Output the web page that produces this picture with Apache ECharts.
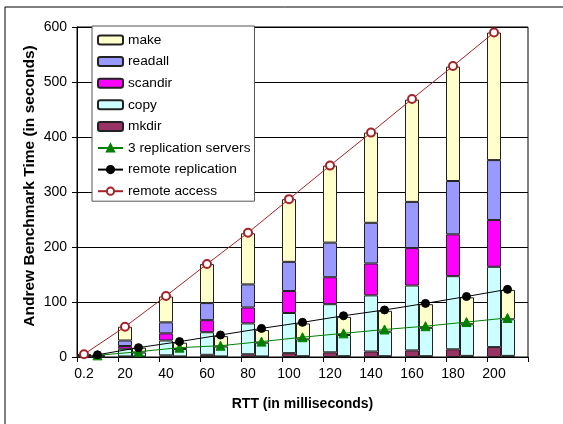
<!DOCTYPE html>
<html>
<head>
<meta charset="utf-8">
<script src="https://cdn.jsdelivr.net/npm/echarts@6/dist/echarts.min.js"></script>
<style>
  html, body { margin: 0; padding: 0; background: #fff; }
  #chart { width: 563px; height: 424px; }
</style>
</head>
<body>
<div id="chart"></div>
<script>
// RTT categories (milliseconds)
const rtt = ['0.2', '20', '40', '60', '80', '100', '120', '140', '160', '180', '200'];

// Remote access: per-phase breakdown of the Andrew benchmark (seconds)
const accessMkdir   = [0.2, 1, 3, 4, 5, 7, 8.5, 10, 12, 14, 18];
const accessCopy    = [1.8, 14, 27, 41, 56, 73, 87.5, 102, 118, 133, 146];
const accessScandir = [0.5, 5, 13, 22, 29, 40, 49, 58, 68, 76, 85];
const accessReadall = [1, 10, 20, 31, 42, 53, 63, 74, 84, 97, 109];
const accessMake    = [1.5, 25, 47, 71, 93, 114, 140, 164, 186, 208, 232];

// Replicated runs: per-phase breakdown (seconds)
const replMkdir = [0.2, 1, 1, 1, 1, 1.5, 1.5, 1.5, 1.5, 2, 2];
const replCopy  = [2, 7, 13.5, 18, 25, 30.5, 38.5, 44.5, 51.5, 57.5, 66.5];
const replMake  = [1.5, 9, 11.5, 19, 23, 29, 33, 38, 43, 49, 53.5];

// Total times (seconds)
const threeServers      = [3, 9.6, 17, 20.5, 28, 36, 43, 50, 56, 63.5, 71];
const remoteReplication = [4, 17, 28, 40, 52, 63, 75, 85.5, 97.5, 110, 123];
const remoteAccess      = [5, 55, 111, 169, 226, 287, 348, 408, 469, 529, 590];

const FONT = 'Liberation Sans, Arial, sans-serif';
const C = {
  make: '#FFFFCC', readall: '#9999FF', scandir: '#FF00FF', copy: '#CCFFFF', mkdir: '#993366',
  green: '#008000', black: '#000000', red: '#A3232A'
};
const edge = { borderColor: '#222', borderWidth: 1 };

function bar(name, data, stack, color) {
  return {
    name, type: 'bar', stack, data, barWidth: 14, barGap: '0%',
    xAxisIndex: 0, yAxisIndex: 0,
    itemStyle: Object.assign({ color }, edge)
  };
}

function line(name, data, axis, symbol, size, color) {
  return {
    name, type: 'line', data, z: 5,
    xAxisIndex: axis, yAxisIndex: axis,
    symbol, symbolSize: size, showSymbol: true, showAllSymbol: true,
    lineStyle: { color, width: 1, type: 'solid' },
    itemStyle: { color, borderColor: color, borderWidth: 1 },
    emphasis: { disabled: true }
  };
}

const chart = echarts.init(document.getElementById('chart'), null, { renderer: 'canvas' });

chart.setOption({
  animation: false,
  backgroundColor: '#fff',
  textStyle: { fontFamily: FONT },
  graphic: [{
    type: 'rect', z: -10,
    shape: { x: 5, y: 7, width: 600, height: 500 },
    style: { fill: 'none', stroke: '#000', lineWidth: 1 }
  }],
  grid: [
    { left: 77, right: 35, top: 27, bottom: 67, show: true, borderColor: '#000', borderWidth: 1, backgroundColor: 'transparent' },
    { left: 63.5, right: 48.5, top: 27, bottom: 67 }
  ],
  xAxis: [
    {
      type: 'category', gridIndex: 0, data: rtt, boundaryGap: true,
      axisLine: { lineStyle: { color: '#000' } },
      axisTick: { show: true, length: 5, lineStyle: { color: '#000' } },
      axisLabel: { show: false },
      name: 'RTT (in milliseconds)', nameLocation: 'middle', nameGap: 40, nameMoveOverlap: false,
      nameTextStyle: { fontFamily: FONT, fontSize: 14, fontWeight: 'bold', color: '#000' }
    },
    {
      type: 'category', gridIndex: 1, data: rtt, boundaryGap: true,
      axisLine: { show: false }, axisTick: { show: false },
      axisLabel: { margin: 10, fontFamily: FONT, fontSize: 14, color: '#000' }
    }
  ],
  yAxis: [
    {
      type: 'value', gridIndex: 0, min: 0, max: 600, interval: 100,
      axisLine: { show: true, lineStyle: { color: '#000' } },
      axisTick: { show: true, length: 5, lineStyle: { color: '#000' } },
      axisLabel: { margin: 10, fontFamily: FONT, fontSize: 14, color: '#000' },
      splitLine: { lineStyle: { color: '#000', width: 1 } },
      name: 'Andrew Benchmark Time (in seconds)', nameLocation: 'middle', nameGap: 39, nameMoveOverlap: false,
      nameTextStyle: { fontFamily: FONT, fontSize: 15.5, fontWeight: 'bold', color: '#000', padding: [0, 0, 0, 12] }
    },
    {
      type: 'value', gridIndex: 1, min: 0, max: 600, interval: 100,
      axisLine: { show: false }, axisTick: { show: false },
      axisLabel: { show: false }, splitLine: { show: false }
    }
  ],
  legend: {
    orient: 'vertical', left: 92, top: 26,
    backgroundColor: '#fff', borderColor: '#555', borderWidth: 1,
    padding: [7, 4, 3, 5],
    itemWidth: 25, itemHeight: 9, itemGap: 7.6,
    textStyle: { fontFamily: FONT, fontSize: 13.7, color: '#000' },
    data: ['make', 'readall', 'scandir', 'copy', 'mkdir', '3 replication servers', 'remote replication', 'remote access']
  },
  series: [
    // remote access stack
    bar('mkdir', accessMkdir, 'access', C.mkdir),
    bar('copy', accessCopy, 'access', C.copy),
    bar('scandir', accessScandir, 'access', C.scandir),
    bar('readall', accessReadall, 'access', C.readall),
    bar('make', accessMake, 'access', C.make),
    // replicated stack
    bar('mkdir', replMkdir, 'repl', C.mkdir),
    bar('copy', replCopy, 'repl', C.copy),
    bar('make', replMake, 'repl', C.make),
    // spacer column keeps the pair left-aligned in each category
    { name: 'spacer', type: 'bar', stack: 'spacer', data: rtt.map(() => '-'), barWidth: 13, barGap: '0%', silent: true },
    line('3 replication servers', threeServers, 0, 'triangle', 9, C.green),
    line('remote replication', remoteReplication, 0, 'circle', 8, C.black),
    line('remote access', remoteAccess, 1, 'emptyCircle', 8, C.red)
  ]
});
</script>
</body>
</html>
